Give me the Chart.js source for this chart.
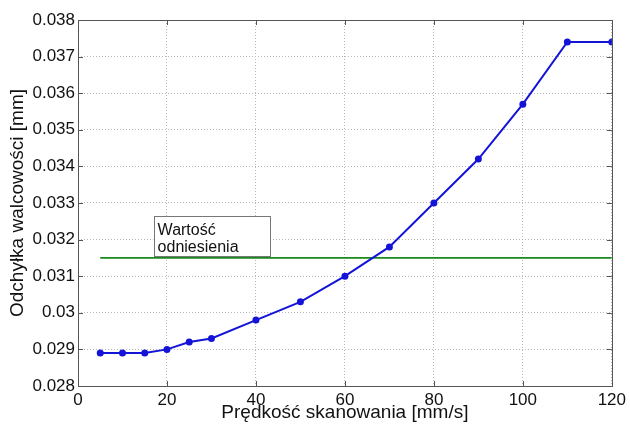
<!DOCTYPE html>
<html>
<head>
<meta charset="utf-8">
<script src="https://cdn.jsdelivr.net/npm/chart.js@4"></script>
<style>
html,body{margin:0;padding:0;background:#fff;}
#wrap{width:630px;height:426px;position:relative;}
</style>
</head>
<body>
<div id="wrap"><canvas id="c" width="630" height="426"></canvas></div>
<script>
const speeds = [5, 10, 15, 20, 25, 30, 40, 50, 60, 70, 80, 90, 100, 110, 120];
const deviation = [0.0289, 0.0289, 0.0289, 0.0290, 0.0292, 0.0293, 0.0298, 0.0303, 0.0310, 0.0318, 0.0330, 0.0342, 0.0357, 0.0374, 0.0374];
const refX = [5, 120];
const refValue = [0.0315, 0.0315];
const refLabel = ['Wartość', 'odniesienia'];
const xTitle = 'Prędkość skanowania [mm/s]';
const yTitle = 'Odchyłka walcowości [mm]';

const FONT = "'Liberation Sans', Arial, sans-serif";

const framePlugin = {
  id: 'frame',
  afterDraw(chart) {
    const {ctx, chartArea: a, scales} = chart;
    ctx.save();
    ctx.strokeStyle = '#555';
    ctx.lineWidth = 1;
    const tl = 5;
    ctx.beginPath();
    scales.x.ticks.forEach(t => {
      const px = Math.round(scales.x.getPixelForValue(t.value)) + 0.5;
      ctx.moveTo(px, a.bottom); ctx.lineTo(px, a.bottom - tl);
      ctx.moveTo(px, a.top); ctx.lineTo(px, a.top + tl);
    });
    scales.y.ticks.forEach(t => {
      const py = Math.round(scales.y.getPixelForValue(t.value)) + 0.5;
      ctx.moveTo(a.left, py); ctx.lineTo(a.left + tl, py);
      ctx.moveTo(a.right, py); ctx.lineTo(a.right - tl, py);
    });
    ctx.stroke();
    ctx.strokeRect(Math.round(a.left) + 0.5, Math.round(a.top) + 0.5, Math.round(a.right - a.left), Math.round(a.bottom - a.top));
    const x0 = scales.x.getPixelForValue(17);
    const x1 = scales.x.getPixelForValue(43);
    const y0 = scales.y.getPixelForValue(0.03264);
    const y1 = scales.y.getPixelForValue(0.03155);
    ctx.fillStyle = '#fff';
    ctx.fillRect(x0, y0, x1 - x0, y1 - y0);
    ctx.strokeStyle = '#777';
    ctx.strokeRect(Math.round(x0) + 0.5, Math.round(y0) + 0.5, Math.round(x1 - x0), Math.round(y1 - y0));
    ctx.fillStyle = '#111';
    ctx.font = '16px ' + FONT;
    ctx.textBaseline = 'alphabetic';
    ctx.textAlign = 'left';
    ctx.fillText(refLabel[0], x0 + 4, y0 + 19);
    ctx.fillText(refLabel[1], x0 + 4, y0 + 36);
    ctx.restore();
  }
};

new Chart(document.getElementById('c'), {
  type: 'scatter',
  data: {
    datasets: [
      {
        data: speeds.map((s, i) => ({x: s, y: deviation[i]})),
        showLine: true,
        borderColor: '#1414d8',
        backgroundColor: '#1414d8',
        borderWidth: 2,
        pointRadius: 2.5,
        pointHoverRadius: 2.5,
        order: 1
      },
      {
        data: refX.map((s, i) => ({x: s, y: refValue[i]})),
        showLine: true,
        borderColor: '#1a8a1a',
        backgroundColor: '#1a8a1a',
        borderWidth: 1.6,
        pointRadius: 0,
        order: 2
      }
    ]
  },
  options: {
    responsive: false,
    animation: false,
    events: [],
    layout: {padding: {top: 20, right: 15, left: 0, bottom: 0}},
    plugins: {legend: {display: false}, tooltip: {enabled: false}},
    scales: {
      x: {
        type: 'linear', min: 0, max: 120,
        ticks: {stepSize: 20, color: '#111', font: {family: FONT, size: 17}, padding: 4, maxRotation: 0},
        grid: {color: '#b8b8b8', lineWidth: 1, drawTicks: false},
        border: {display: false, dash: [1, 2]},
        title: {display: true, text: xTitle, color: '#111', font: {family: FONT, size: 19}, padding: {top: 0, bottom: 2}},
        afterFit(s) { s.height = 40; }
      },
      y: {
        type: 'linear', min: 0.028, max: 0.038,
        ticks: {stepSize: 0.001, color: '#111', font: {family: FONT, size: 17}, padding: 3,
          callback: v => String(Number(v.toFixed(4)))},
        grid: {color: '#b8b8b8', lineWidth: 1, drawTicks: false},
        border: {display: false, dash: [1, 2]},
        title: {display: true, text: yTitle, color: '#111', font: {family: FONT, size: 19}, padding: {top: 6, bottom: 0}},
        afterFit(s) { s.width = 78; }
      }
    }
  },
  plugins: [framePlugin]
});
</script>
</body>
</html>
